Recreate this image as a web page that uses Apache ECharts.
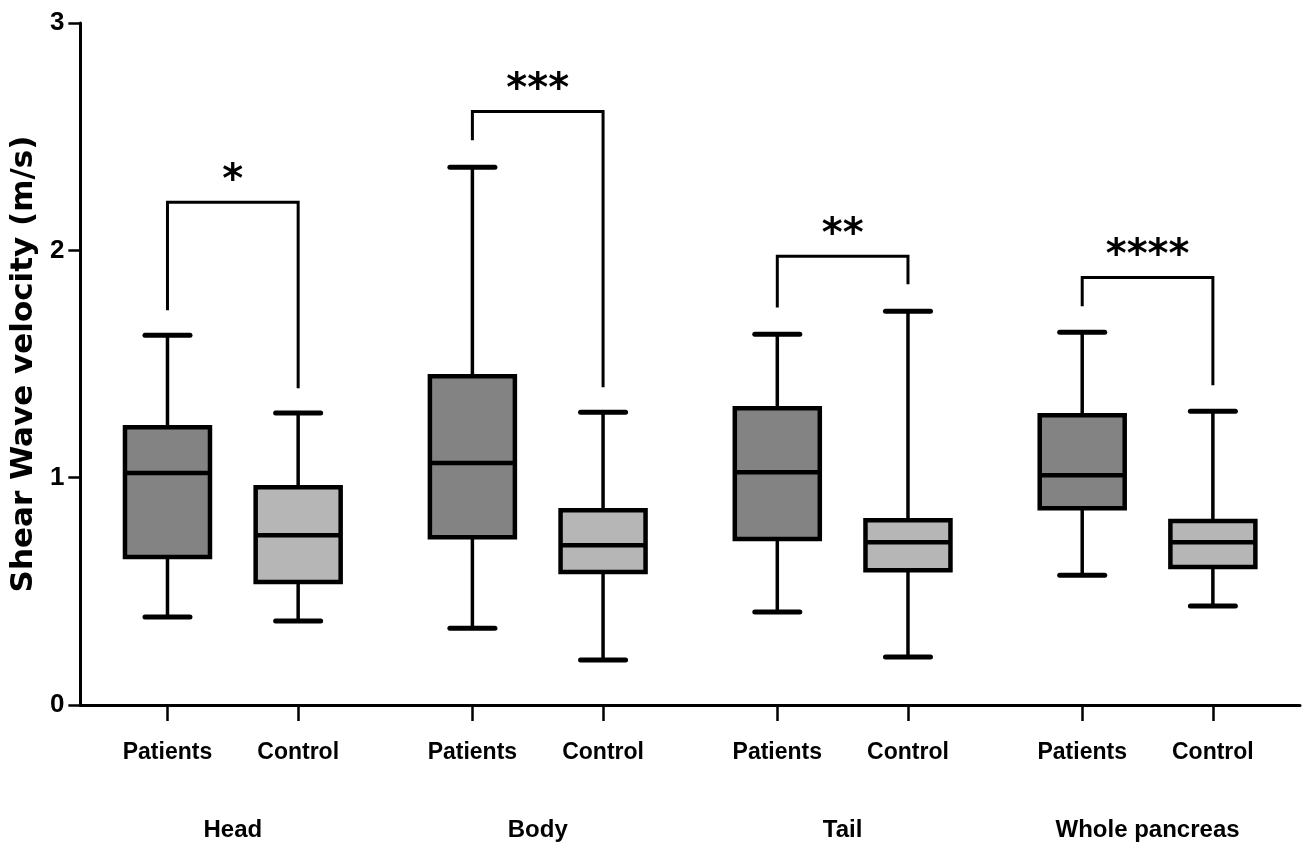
<!DOCTYPE html>
<html>
<head>
<meta charset="utf-8">
<script src="https://cdn.jsdelivr.net/npm/echarts@6/dist/echarts.min.js"></script>
<style>
html,body{margin:0;padding:0;background:#fff;}
#chart{width:1308px;height:861px;}
</style>
</head>
<body>
<div id="chart"></div>
<script>
// ---- data ----
const groupNames = ['Head', 'Body', 'Tail', 'Whole pancreas'];
const armNames = ['Patients', 'Control'];
const yTicks = [0, 1, 2, 3];
// [min, Q1, median, Q3, max]
const patientsBox = [
  [0.387, 0.651, 1.020, 1.222, 1.626],
  [0.338, 0.738, 1.064, 1.446, 2.365],
  [0.409, 0.730, 1.024, 1.305, 1.631],
  [0.571, 0.866, 1.011, 1.275, 1.640]
];
const controlBox = [
  [0.369, 0.541, 0.747, 0.958, 1.284],
  [0.198, 0.585, 0.703, 0.857, 1.288],
  [0.211, 0.593, 0.716, 0.813, 1.732],
  [0.435, 0.607, 0.716, 0.809, 1.292]
];
const significance = ['*', '***', '**', '****'];
const bracketTop = [2.211, 2.611, 1.974, 1.881];
const bracketLeftEnd = [1.736, 2.484, 1.749, 1.754];
const bracketRightEnd = [1.393, 1.398, 1.851, 1.407];

// ---- layout of category slots (half-slot grid) ----
const nSlots = 57;
const groupCenters = [7, 21, 35, 49];
const armOffset = [-3, 3];

const armAxisData = new Array(nSlots).fill('');
const groupAxisData = new Array(nSlots).fill('');
groupCenters.forEach((c, g) => {
  groupAxisData[c] = groupNames[g];
  armNames.forEach((a, k) => { armAxisData[c + armOffset[k]] = a; });
});

const patientsData = patientsBox.map((b, g) => [groupCenters[g] + armOffset[0]].concat(b));
const controlData = controlBox.map((b, g) => [groupCenters[g] + armOffset[1]].concat(b));
const bracketData = groupCenters.map((c, g) => [c + armOffset[0], c + armOffset[1], bracketTop[g], bracketLeftEnd[g], bracketRightEnd[g], significance[g]]);

const sansFont = '"Liberation Sans", Arial, sans-serif';

function boxRenderer(fill) {
  return function (params, api) {
    const x = api.value(0);
    const pMin = api.coord([x, api.value(1)]);
    const pQ1 = api.coord([x, api.value(2)]);
    const pMed = api.coord([x, api.value(3)]);
    const pQ3 = api.coord([x, api.value(4)]);
    const pMax = api.coord([x, api.value(5)]);
    const cx = pMin[0];
    const bw = 85, cw = 45;
    const wStyle = { stroke: '#000', lineWidth: 3.5 };
    const cStyle = { stroke: '#000', lineWidth: 5, lineCap: 'round' };
    return {
      type: 'group',
      children: [
        { type: 'line', shape: { x1: cx, y1: pMax[1], x2: cx, y2: pQ3[1] }, style: wStyle },
        { type: 'line', shape: { x1: cx, y1: pQ1[1], x2: cx, y2: pMin[1] }, style: wStyle },
        { type: 'line', shape: { x1: cx - cw / 2, y1: pMax[1], x2: cx + cw / 2, y2: pMax[1] }, style: cStyle },
        { type: 'line', shape: { x1: cx - cw / 2, y1: pMin[1], x2: cx + cw / 2, y2: pMin[1] }, style: cStyle },
        { type: 'rect', shape: { x: cx - bw / 2, y: pQ3[1], width: bw, height: pQ1[1] - pQ3[1] },
          style: { fill: fill, stroke: '#000', lineWidth: 4.5 } },
        { type: 'line', shape: { x1: cx - bw / 2, y1: pMed[1], x2: cx + bw / 2, y2: pMed[1] },
          style: { stroke: '#000', lineWidth: 4.5 } }
      ]
    };
  };
}

function bracketRenderer(params, api) {
  const l = api.value(0), r = api.value(1);
  const pl = api.coord([l, api.value(3)]);
  const plt = api.coord([l, api.value(2)]);
  const prt = api.coord([r, api.value(2)]);
  const pr = api.coord([r, api.value(4)]);
  return {
    type: 'group',
    children: [
      { type: 'polyline', shape: { points: [pl, plt, prt, pr] },
        style: { stroke: '#000', lineWidth: 3, fill: null } },
      { type: 'text', x: (plt[0] + prt[0]) / 2, y: plt[1] - 21,
        style: { text: api.value(5), fill: '#000', font: 'bold 40px "DejaVu Sans", sans-serif',
                 align: 'center', verticalAlign: 'middle' } }
    ]
  };
}

const chart = echarts.init(document.getElementById('chart'));
const intervalFn = (idx, val) => val !== '';
chart.setOption({
  animation: false,
  backgroundColor: '#fff',
  grid: { left: 79, right: 8, top: 23, bottom: 156 },
  xAxis: [
    {
      type: 'category', data: armAxisData, boundaryGap: false,
      axisLine: { show: true, lineStyle: { color: '#000', width: 3 } },
      axisTick: { show: true, interval: intervalFn, length: 16, lineStyle: { color: '#000', width: 2.5 } },
      axisLabel: { show: true, interval: intervalFn, margin: 36, color: '#000',
                   fontFamily: sansFont, fontWeight: 'bold', fontSize: 23 },
      splitLine: { show: false }
    },
    {
      type: 'category', data: groupAxisData, boundaryGap: false, position: 'bottom',
      axisLine: { show: false }, axisTick: { show: false },
      axisLabel: { show: true, interval: intervalFn, margin: 113, color: '#000',
                   fontFamily: sansFont, fontWeight: 'bold', fontSize: 24 },
      splitLine: { show: false }
    }
  ],
  yAxis: {
    type: 'value', min: yTicks[0], max: yTicks[yTicks.length - 1], interval: 1,
    name: 'Shear Wave velocity (m/s)', nameLocation: 'middle', nameGap: 35,
    nameTextStyle: { fontFamily: '"DejaVu Sans", sans-serif', fontWeight: 'bold', fontSize: 31, color: '#000' },
    axisLine: { show: true, lineStyle: { color: '#000', width: 3 } },
    axisTick: { show: true, length: 12, lineStyle: { color: '#000', width: 2.5 } },
    axisLabel: { color: '#000', fontFamily: sansFont, fontWeight: 'bold', fontSize: 26, margin: 16 },
    splitLine: { show: false }
  },
  series: [
    { type: 'custom', name: 'Patients', renderItem: boxRenderer('#838383'), data: patientsData,
      encode: { x: 0, y: [1, 2, 3, 4, 5] } },
    { type: 'custom', name: 'Control', renderItem: boxRenderer('#b6b6b6'), data: controlData,
      encode: { x: 0, y: [1, 2, 3, 4, 5] } },
    { type: 'custom', name: 'Significance', renderItem: bracketRenderer, data: bracketData,
      encode: { x: [0, 1], y: [2, 3, 4] } }
  ]
});
</script>
</body>
</html>
